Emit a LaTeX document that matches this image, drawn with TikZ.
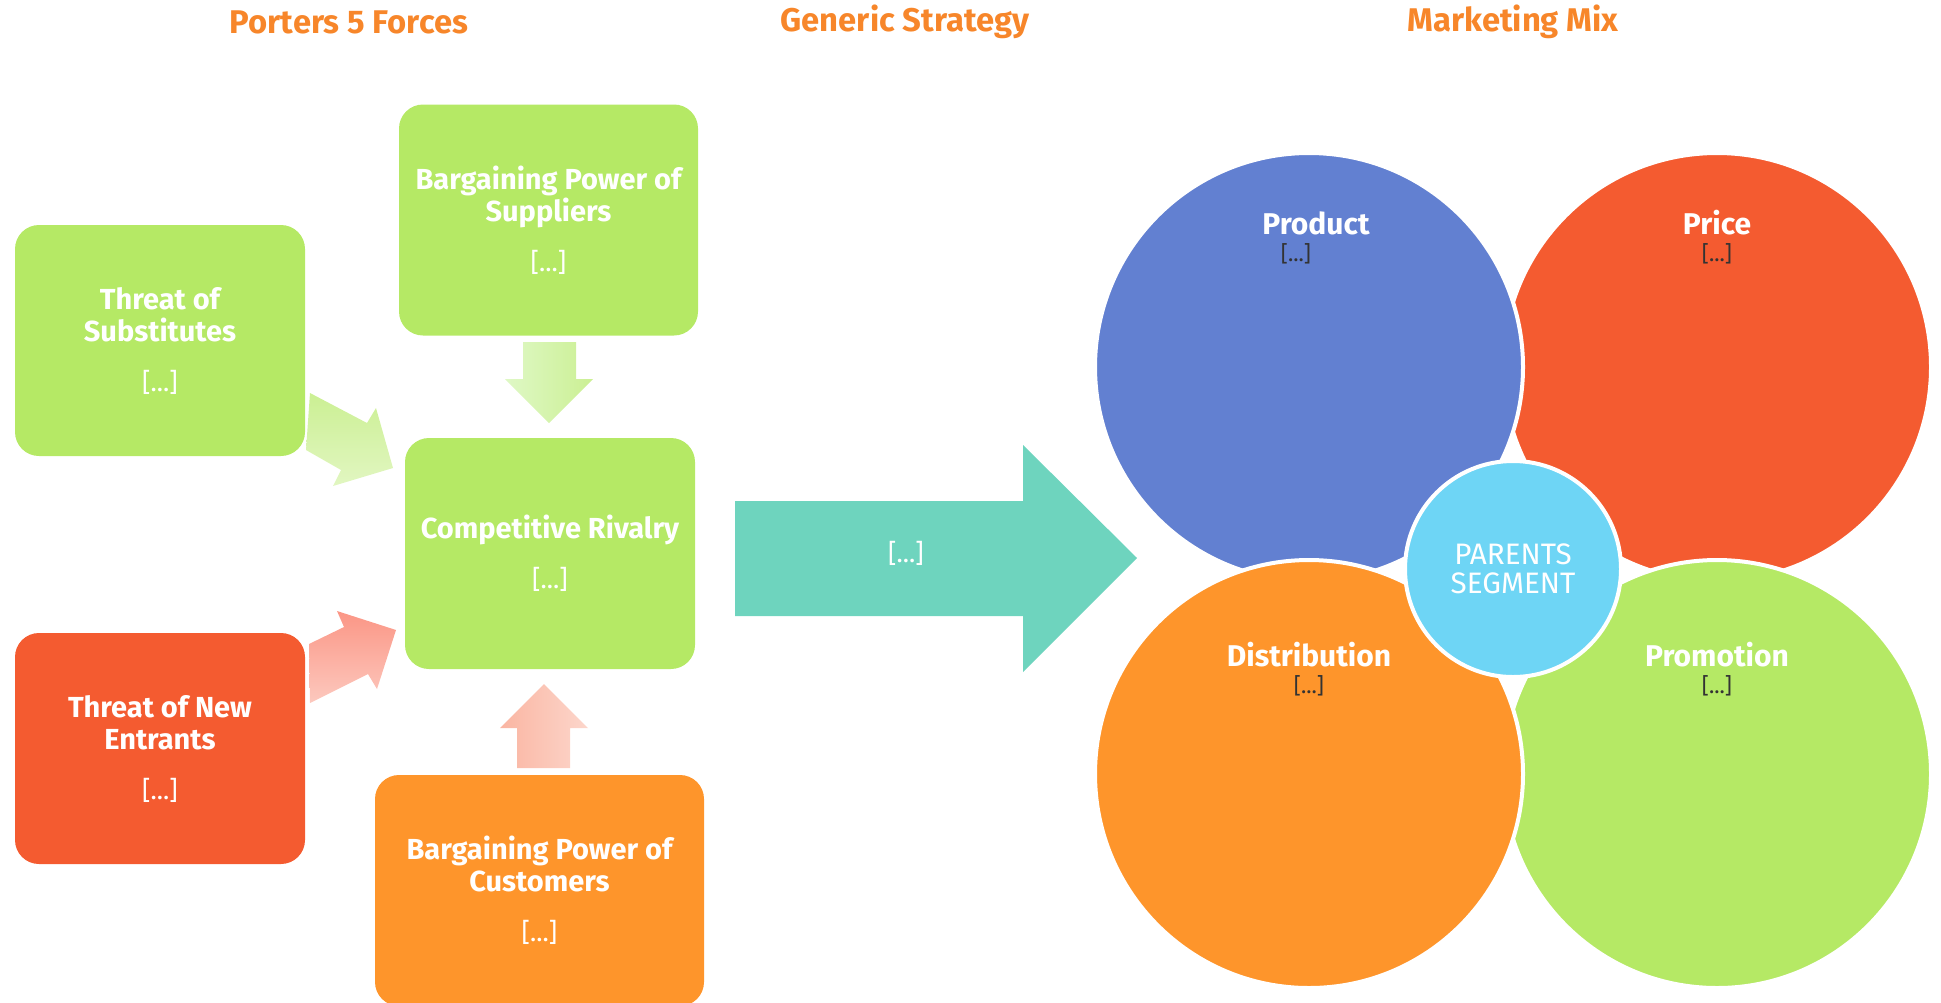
\documentclass[tikz,border=0pt]{standalone}
\usepackage{fontspec}
\setmainfont{Fira Sans}
\usetikzlibrary{positioning}
\definecolor{Leaf}{HTML}{B5E965}
\definecolor{Flame}{HTML}{F45B30}
\definecolor{Amber}{HTML}{FE952B}
\definecolor{Iris}{HTML}{6280D1}
\definecolor{Sky}{HTML}{6ED5F5}
\definecolor{Mint}{HTML}{6ED4BE}
\definecolor{Heading}{HTML}{F7862A}
\definecolor{Ink}{HTML}{333333}

\tikzset{
  force/.style={rounded corners=12pt,align=center,text=white,
    font=\fontsize{14.5}{16}\selectfont\bfseries,minimum height=115.5pt},
  mix/.style={circle,draw=white,line width=2pt,minimum size=214pt},
  heading/.style={text=Heading,font=\fontsize{16.4}{18}\selectfont\bfseries},
  dots/.style={font=\fontsize{13}{16}\selectfont}
}

\begin{document}
\begin{tikzpicture}[x=0.5pt,y=-0.5pt]
    \useasboundingbox (0,0) rectangle (1941,1002);

    % column headings
    \node[heading] (h-porter) at (349,22) {Porters 5 Forces};
    \node[heading] (h-generic) at (905,22) {Generic Strategy};
    \node[heading] (h-mix) at (1513,22) {Marketing Mix};

    % the five forces
    \foreach \name/\x/\y/\w/\col/\txt in {
      sup/548.5/220/149.5/Leaf/{Bargaining Power of\\Suppliers},
      subs/160/340.5/145/Leaf/{Threat of\\Substitutes},
      riv/550/553.5/145/Leaf/{Competitive Rivalry},
      newent/160/748.5/145/Flame/{Threat of New\\Entrants},
      cust/539.5/890.5/164.5/Amber/{Bargaining Power of\\Customers}}
    {
      \node[force,fill=\col,minimum width=\w pt] (\name) at (\x,\y)
        {\txt\\[9pt]{\mdseries\fontsize{13}{16}\selectfont [...]}};
    }

    % pressure arrows onto the rivalry box
    \shade[left color=green!10!Leaf!35,right color=Leaf!70] (523,342) -- (576,342) -- (576,379) -- (593,379)
      -- (549,423) -- (505,379) -- (523,379) -- cycle;
    \shade[left color=Flame!45,right color=Flame!25] (517,768) -- (517,728) -- (500,728) -- (544,684)
      -- (588,728) -- (570,728) -- (570,768) -- cycle;
    \shade[top color=Leaf!70,bottom color=Leaf!40] (310,393) -- (367,423) -- (376,408) -- (393,468)
      -- (333,486) -- (341,470) -- (306,450) -- cycle;
    \shade[top color=red!30!Flame!55,bottom color=red!20!Flame!30] (309,644) -- (344,627) -- (337,611) -- (396,630)
      -- (377,689) -- (368,674) -- (310,703) -- cycle;

    % generic strategy arrow
    \fill[Mint] (735,501) -- (1023,501) -- (1023,445) -- (1137,558) -- (1023,672)
      -- (1023,616) -- (735,616) -- cycle;
    \node[dots,text=white] (gen) at (906,553) {[...]};

    % marketing mix, back to front
    \foreach \name/\x/\y/\col in {price/1717/367/Flame, promo/1717/774/Leaf,
      prod/1309/367/Iris, dist/1309/774/Amber}
      \node[mix,fill=\col] (\name) at (\x,\y) {};
    \node[circle,draw=white,line width=2pt,fill=Sky,minimum size=108pt,text=white,
      align=center,font=\fontsize{14.8}{14.5}\selectfont] (seg) at (1513,569) {PARENTS\\SEGMENT};

    \foreach \name/\x/\y/\dx/\txt in {prod/1316/223/1296/Product, price/1717/223/1717/Price,
      dist/1309/655/1309/Distribution, promo/1717/655/1717/Promotion}
    {
      \node[text=white,font=\fontsize{15}{16}\selectfont\bfseries] (\name-t) at (\x,\y) {\txt};
      \node[text=Ink,font=\fontsize{11}{13}\selectfont] (\name-d) at (\dx,\y+31) {[...]};
    }
  \end{tikzpicture}
\end{document}
